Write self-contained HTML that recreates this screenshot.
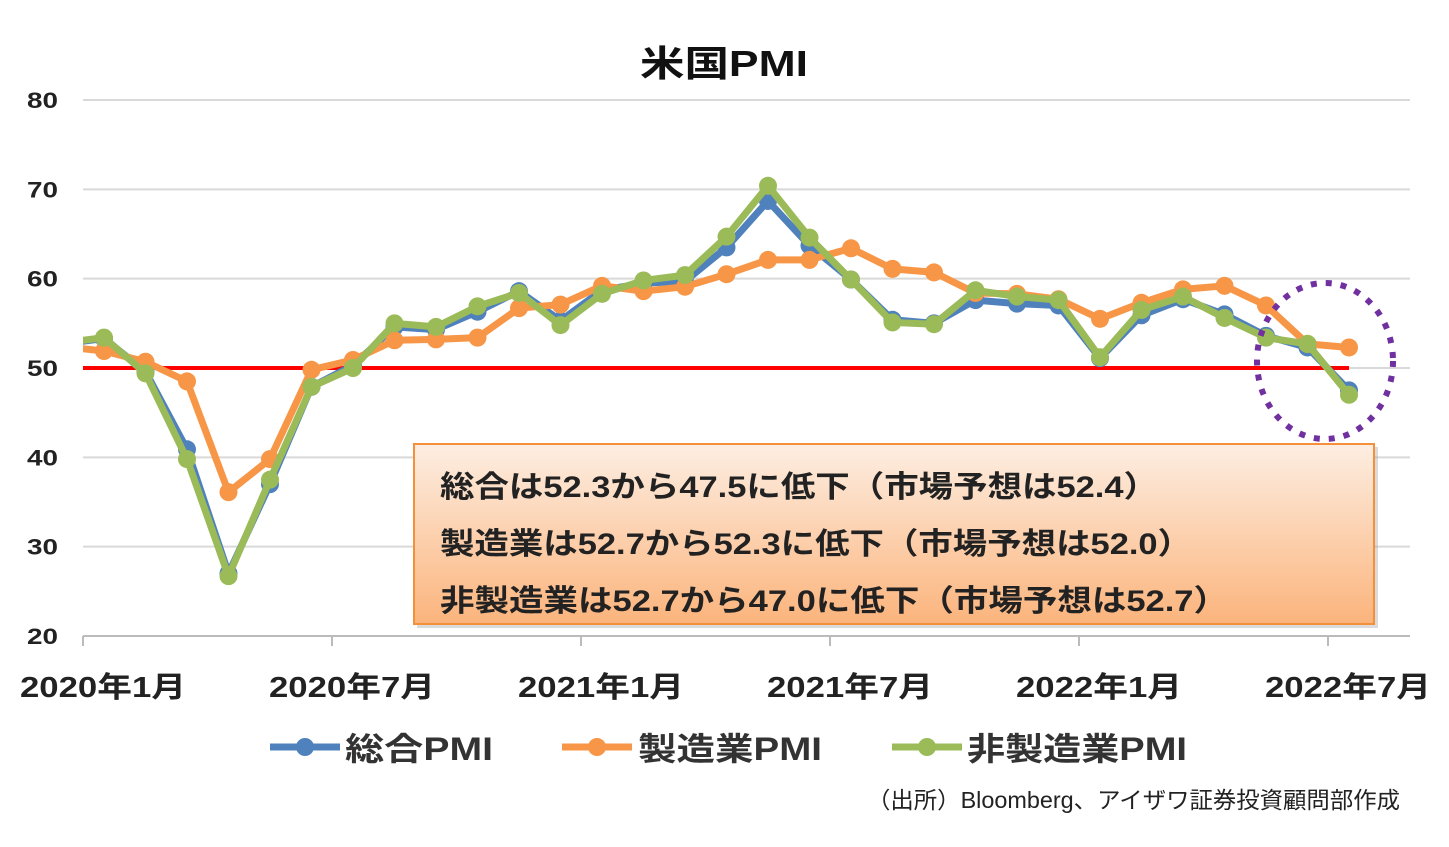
<!DOCTYPE html>
<html><head><meta charset="utf-8"><style>
body{margin:0;background:#fff;width:1449px;height:842px;overflow:hidden;font-family:"Liberation Sans","Noto Sans CJK JP",sans-serif}
svg text{font-family:"Liberation Sans","Noto Sans CJK JP",sans-serif}
</style></head><body>
<svg id="chart" width="1449" height="842" xmlns="http://www.w3.org/2000/svg">
<defs>
<linearGradient id="bg" x1="0" y1="0" x2="0" y2="1"><stop offset="0" stop-color="#fdeee2"/><stop offset="1" stop-color="#fbb47c"/></linearGradient>
<clipPath id="clip"><rect x="83" y="80" width="1340" height="570"/></clipPath>
</defs>
<text x="640" y="76" font-size="36" font-weight="bold" fill="#111" textLength="168" lengthAdjust="spacingAndGlyphs">米国PMI</text>
<g id="grid"></g>
<g id="series" clip-path="url(#clip)"></g>
<ellipse cx="1325" cy="361" rx="68" ry="78" fill="none" stroke="#7030a0" stroke-width="6" stroke-dasharray="6 9"/>
<g>
<rect x="417" y="447" width="961" height="181" fill="#999" opacity="0.35"/>
<rect x="414" y="444" width="960" height="180" fill="url(#bg)" stroke="#f4903a" stroke-width="2"/>
<text x="440" y="497" font-size="30" font-weight="bold" fill="#222" textLength="718" lengthAdjust="spacingAndGlyphs">総合は52.3から47.5に低下（市場予想は52.4）</text>
<text x="440" y="554" font-size="30" font-weight="bold" fill="#222" textLength="752" lengthAdjust="spacingAndGlyphs">製造業は52.7から52.3に低下（市場予想は52.0）</text>
<text x="440" y="611" font-size="30" font-weight="bold" fill="#222" textLength="788" lengthAdjust="spacingAndGlyphs">非製造業は52.7から47.0に低下（市場予想は52.7）</text>
</g>
<g>
<line x1="270" y1="747" x2="340" y2="747" stroke="#4f81bd" stroke-width="7"/><circle cx="305" cy="747" r="9" fill="#4f81bd"/>
<text x="345" y="760" font-size="32" font-weight="bold" fill="#333" textLength="148" lengthAdjust="spacingAndGlyphs">総合PMI</text>
<line x1="562" y1="747" x2="632" y2="747" stroke="#f79646" stroke-width="7"/><circle cx="597" cy="747" r="9" fill="#f79646"/>
<text x="638" y="760" font-size="32" font-weight="bold" fill="#333" textLength="184" lengthAdjust="spacingAndGlyphs">製造業PMI</text>
<line x1="892" y1="747" x2="962" y2="747" stroke="#9bbb59" stroke-width="7"/><circle cx="927" cy="747" r="9" fill="#9bbb59"/>
<text x="967" y="760" font-size="32" font-weight="bold" fill="#333" textLength="220" lengthAdjust="spacingAndGlyphs">非製造業PMI</text>
</g>
<text x="867" y="808" font-size="23" fill="#222" textLength="533" lengthAdjust="spacingAndGlyphs">（出所）Bloomberg、アイザワ証券投資顧問部作成</text>
</svg>
<script>
const yTicks=[20,30,40,50,60,70,80];
const xTickLabels=["2020年1月","2020年7月","2021年1月","2021年7月","2022年1月","2022年7月"];
const composite=[52.7,53.3,49.6,40.9,27.0,37.0,47.9,50.3,54.6,54.3,56.3,58.6,55.3,58.7,59.5,59.7,63.5,68.7,63.7,59.9,55.4,55.0,57.6,57.2,57.0,51.1,55.9,57.7,56.0,53.6,52.3,47.5];
const manufacturing=[52.4,51.9,50.7,48.5,36.1,39.8,49.8,50.9,53.1,53.2,53.4,56.7,57.1,59.2,58.6,59.1,60.5,62.1,62.1,63.4,61.1,60.7,58.4,58.3,57.7,55.5,57.3,58.8,59.2,57.0,52.7,52.3];
const services=[52.8,53.4,49.4,39.8,26.7,37.5,47.9,50.0,55.0,54.6,56.9,58.4,54.8,58.3,59.8,60.4,64.7,70.4,64.6,59.9,55.1,54.9,58.7,58.0,57.6,51.2,56.5,58.0,55.6,53.4,52.7,47.0];
const refLine=50;
const NS="http://www.w3.org/2000/svg";
const y=v=>636-(v-20)*536/60;
const x=i=>62.5+41.5*i;
const tickX=k=>83+249*k;
function mk(t,a,p){const e=document.createElementNS(NS,t);for(const k in a)e.setAttribute(k,a[k]);(p||document.getElementById('chart')).appendChild(e);return e;}
const grid=document.getElementById('grid');
yTicks.forEach(v=>{
 const l=mk('line',{x1:83,x2:1410,y1:y(v),y2:y(v),stroke:v===20?'#bbb':'#d9d9d9','stroke-width':2},grid);
 
 
 const t=mk('text',{x:27,y:y(v)+8,'font-size':22,'font-weight':'bold',fill:'#222',textLength:31,lengthAdjust:'spacingAndGlyphs'},grid);t.textContent=v;
 
 
});
xTickLabels.forEach((s,k)=>{
 const tx=tickX(k);
 const l=mk('line',{x1:tx,x2:tx,y1:636,y2:646,stroke:'#bbb','stroke-width':2},grid);
 
 
 const t=mk('text',{x:tx-63,y:697,'font-size':29,'font-weight':'bold',fill:'#222',textLength:166,lengthAdjust:'spacingAndGlyphs'},grid);t.textContent=s;
 
 
});
const ser=document.getElementById('series');
const rl=mk('line',{x1:83,x2:x(composite.length-1),y1:y(refLine),y2:y(refLine),stroke:'#ff0000','stroke-width':4},ser);


[[composite,'#4f81bd','composite'],[manufacturing,'#f79646','manufacturing'],[services,'#9bbb59','services']].forEach(([d,c,n])=>{
 const g=mk('g',{},ser);
 
 
 const p=mk('polyline',{points:d.map((v,i)=>x(i)+','+y(v)).join(' '),fill:'none',stroke:c,'stroke-width':7,'stroke-linejoin':'round'},g);
 
 
 d.forEach((v,i)=>{if(i===0)return;
  const m=mk('circle',{cx:x(i),cy:y(v),r:9,fill:c},g);
  
  
 });
});
</script>
</body></html>
